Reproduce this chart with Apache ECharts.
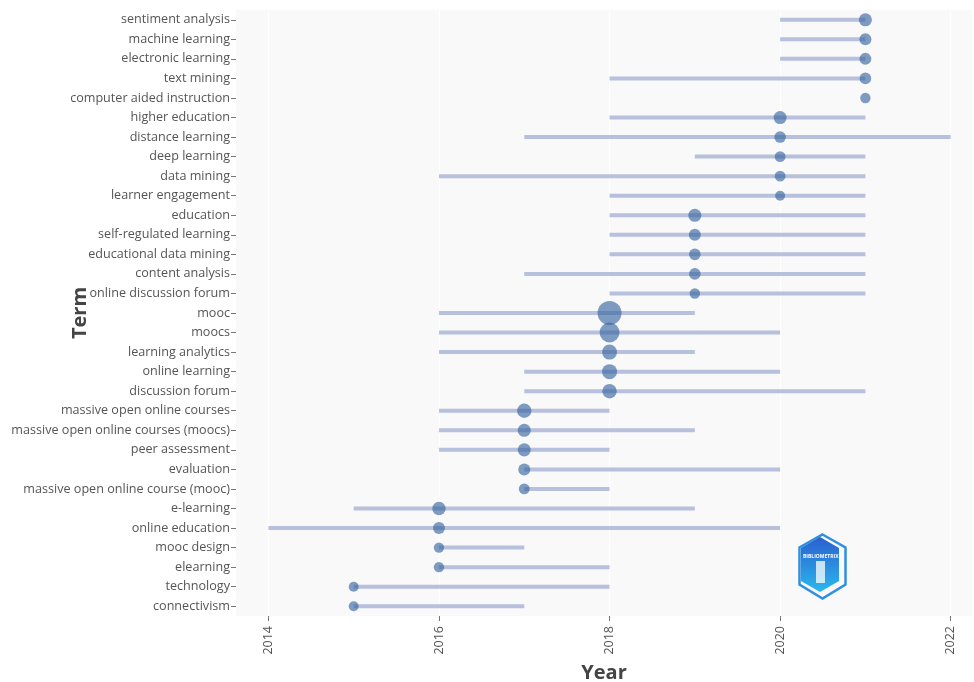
<!DOCTYPE html>
<html><head><meta charset="utf-8">
<script src="https://cdn.jsdelivr.net/npm/echarts@6/dist/echarts.min.js"></script>
<style>html,body{margin:0;padding:0;background:#fff}#c{width:974px;height:682px}</style>
</head><body><div id="c"></div>
<script>
const terms = ["sentiment analysis","machine learning","electronic learning","text mining","computer aided instruction","higher education","distance learning","deep learning","data mining","learner engagement","education","self-regulated learning","educational data mining","content analysis","online discussion forum","mooc","moocs","learning analytics","online learning","discussion forum","massive open online courses","massive open online courses (moocs)","peer assessment","evaluation","massive open online course (mooc)","e-learning","online education","mooc design","elearning","technology","connectivism"];
const yearStart = [2020,2020,2020,2018,2021,2018,2017,2019,2016,2018,2018,2018,2018,2017,2018,2016,2016,2016,2017,2017,2016,2016,2016,2017,2017,2015,2014,2016,2016,2015,2015];
const yearMedian = [2021,2021,2021,2021,2021,2020,2020,2020,2020,2020,2019,2019,2019,2019,2019,2018,2018,2018,2018,2018,2017,2017,2017,2017,2017,2016,2016,2016,2016,2015,2015];
const yearEnd = [2021,2021,2021,2021,2021,2021,2022,2021,2021,2021,2021,2021,2021,2021,2021,2019,2020,2019,2020,2021,2018,2019,2018,2020,2018,2019,2020,2017,2018,2018,2017];
const freq = [19,16,16,15,12,19,15,13,13,11,19,16,15,15,12,64,44,25,25,23,23,19,19,16,13,20,16,12,12,11,11];
const yearTicks = [2014,2016,2018,2020,2022];

const chart = echarts.init(document.getElementById('c'));
const segData = terms.map((t,i)=>[yearStart[i], yearEnd[i], i]);
const dotData = terms.map((t,i)=>[yearMedian[i], i, freq[i]]);
const font = '"Open Sans", "Noto Sans", sans-serif';

chart.setOption({
  backgroundColor: '#ffffff',
  animation: false,
  grid: {left: 236, right: 2, top: 10, bottom: 66, backgroundColor: '#f9f9f9', show: true, borderWidth: 0,
         outerBoundsMode: 'none', containLabel: false},
  xAxis: {
    type: 'value', min: 2013.62, max: 2022.25,
    name: 'Year', nameLocation: 'middle', nameGap: 47, nameMoveOverlap: false,
    nameTextStyle: {fontFamily: font, fontSize: 20, fontWeight: 'bold', color: '#444'},
    axisLine: {show: false},
    axisTick: {show: true, length: 5, lineStyle: {color: '#777'}, customValues: yearTicks},
    axisLabel: {rotate: 90, fontFamily: font, fontSize: 12.5, color: '#555', margin: 10, customValues: yearTicks,
                formatter: function(v){ return String(v); }},
    splitLine: {show: true, lineStyle: {color: '#ffffff', width: 1}}
  },
  yAxis: {
    type: 'category', data: terms, inverse: true,
    name: 'Term', nameLocation: 'middle', nameGap: 146, nameMoveOverlap: false,
    nameTextStyle: {fontFamily: font, fontSize: 20, fontWeight: 'bold', color: '#444'},
    axisLine: {show: false},
    axisTick: {show: true, alignWithLabel: true, length: 5, lineStyle: {color: '#777'}},
    axisLabel: {fontFamily: font, fontSize: 12.6, color: '#555', margin: 6},
    splitLine: {show: false}
  },
  series: [
    {
      type: 'custom',
      data: segData,
      encode: {x: [0,1], y: 2},
      renderItem: function(params, api){
        const a = api.coord([api.value(0), api.value(2)]);
        const b = api.coord([api.value(1), api.value(2)]);
        return {type: 'line', shape: {x1: a[0], y1: a[1], x2: b[0], y2: b[1]},
                style: {stroke: 'rgba(160,172,210,0.75)', lineWidth: 4}};
      },
      z: 2
    },
    {
      type: 'scatter',
      data: dotData,
      symbolSize: function(v){ return 3 * Math.sqrt(v[2]); },
      itemStyle: {color: 'rgba(55,100,160,0.8)'},
      z: 3
    }
  ],
  graphic: [
    {type: 'polygon', left: 797, top: 532, shape: {points: [[23,0],[46,13],[46,50],[23,64],[0,50],[0,13]]},
     style: {fill: 'none', stroke: '#2f8fe0', lineWidth: 2.5}},
    {type: 'polygon', left: 801, top: 537, shape: {points: [[19,0],[38,11],[38,44],[19,55],[0,44],[0,11]]},
     style: {fill: new echarts.graphic.LinearGradient(0,0,0,1,[{offset:0,color:'#2b5fcf'},{offset:1,color:'#2ab8ee'}])}},
    {type: 'text', left: 803, top: 554, style: {text: 'BIBLIOMETRIX', fontSize: 5, fontWeight: 'bold', fill: '#ffffff', fontFamily: font}},
    {type: 'rect', left: 816, top: 561, shape: {width: 9, height: 22}, style: {fill: 'rgba(255,255,255,0.75)'}}
  ]
});
</script></body></html>
